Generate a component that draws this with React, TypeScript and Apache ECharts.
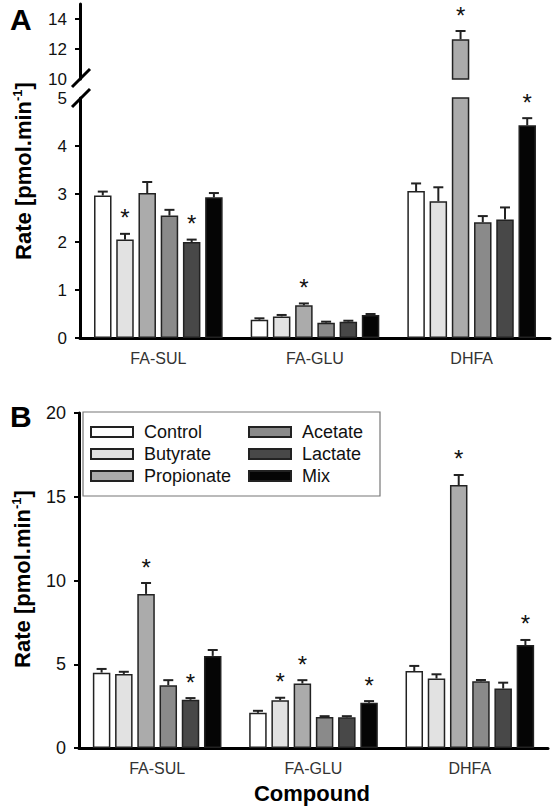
import React, { useEffect, useRef } from 'react';
import * as echarts from 'echarts';

const categories = ['FA-SUL', 'FA-GLU', 'DHFA'];
const seriesNames = ['Control', 'Butyrate', 'Propionate', 'Acetate', 'Lactate', 'Mix'];
const colors = ['#ffffff', '#e2e2e2', '#ababab', '#8a8a8a', '#484848', '#050505'];

// Panel A: means per series [FA-SUL, FA-GLU, DHFA]
const aControl = [2.97, 0.38, 3.06];
const aButyrate = [2.05, 0.45, 2.85];
const aPropionate = [3.02, 0.68, 12.65];
const aAcetate = [2.55, 0.32, 2.41];
const aLactate = [2.0, 0.34, 2.47];
const aMix = [2.93, 0.48, 4.43];
// Panel A: error bar tops (mean + SEM)
const aControlErr = [3.05, 0.41, 3.22];
const aButyrateErr = [2.17, 0.48, 3.14];
const aPropionateErr = [3.25, 0.72, 13.2];
const aAcetateErr = [2.67, 0.34, 2.54];
const aLactateErr = [2.05, 0.36, 2.72];
const aMixErr = [3.02, 0.5, 4.58];
// Panel A: significance [categoryIndex, seriesIndex]
const aStars = [[0, 1], [0, 4], [1, 2], [2, 2], [2, 5]];

// Panel B
const bControl = [4.5, 2.1, 4.6];
const bButyrate = [4.42, 2.85, 4.15];
const bPropionate = [9.2, 3.85, 15.7];
const bAcetate = [3.75, 1.85, 3.98];
const bLactate = [2.88, 1.83, 3.55];
const bMix = [5.5, 2.7, 6.15];
const bControlErr = [4.72, 2.22, 4.9];
const bButyrateErr = [4.55, 3.0, 4.4];
const bPropionateErr = [9.85, 4.05, 16.3];
const bAcetateErr = [4.05, 1.9, 4.06];
const bLactateErr = [2.98, 1.9, 3.9];
const bMixErr = [5.85, 2.8, 6.45];
const bStars = [[0, 2], [0, 4], [1, 1], [1, 2], [1, 5], [2, 2], [2, 5]];

const aLowerTicks = [0, 1, 2, 3, 4, 5];
const aUpperTicks = [10, 12, 14];

const aVals = [aControl, aButyrate, aPropionate, aAcetate, aLactate, aMix];
const aErrs = [aControlErr, aButyrateErr, aPropionateErr, aAcetateErr, aLactateErr, aMixErr];
const bVals = [bControl, bButyrate, bPropionate, bAcetate, bLactate, bMix];
const bErrs = [bControlErr, bButyrateErr, bPropionateErr, bAcetateErr, bLactateErr, bMixErr];

const FONT = '"Liberation Sans", Arial, sans-serif';
const BAR_W = 17.5;
const GAP = 0.27;

function errData(vals: number[][], errs: number[][], stars: number[][], lo: number, hi: number) {
  const out: number[][] = [];
  vals.forEach((arr, s) => {
    arr.forEach((v, c) => {
      if (v > lo && v <= hi) {
        const star = stars.some(([sc, ss]) => sc === c && ss === s) ? 1 : 0;
        out.push([c, s, errs[s][c], v, star]);
      }
    });
  });
  return out;
}

function errSeries(data: number[][], gi: number) {
  return {
    type: 'custom',
    xAxisIndex: gi,
    yAxisIndex: gi,
    z: 5,
    silent: true,
    data,
    encode: { x: 0, y: 2 },
    renderItem: (params: any, api: any) => {
      const cat = api.value(0);
      const s = api.value(1);
      const top = api.coord([cat, api.value(2)]);
      const bot = api.coord([cat, api.value(3)]);
      const pitch = BAR_W * (1 + GAP);
      const x = top[0] + (s - 2.5) * pitch;
      const children: any[] = [
        { type: 'line', shape: { x1: x, y1: bot[1], x2: x, y2: top[1] }, style: { stroke: '#222', lineWidth: 2 } },
        { type: 'line', shape: { x1: x - 5, y1: top[1], x2: x + 5, y2: top[1] }, style: { stroke: '#222', lineWidth: 2 } },
      ];
      if (api.value(4) === 1) {
        children.push({
          type: 'text',
          x,
          y: top[1] - 16,
          style: { text: '*', fill: '#111', font: `24px ${FONT}`, align: 'center', verticalAlign: 'middle' },
        });
      }
      return { type: 'group', children };
    },
  };
}

export default function App() {
  const ref = useRef<HTMLDivElement>(null);
  useEffect(() => {
    document.body.style.margin = '0';
    const chart = echarts.init(ref.current!, null, { renderer: 'svg' });
    const axisLine = { show: true, lineStyle: { color: '#000', width: 3 } };
    const yLabel = { color: '#111', fontSize: 18, margin: 13, fontFamily: FONT };
    const xLabel = { color: '#333', fontSize: 16, margin: 12, fontFamily: FONT };
    const barBase = (name: string, i: number, data: any[], gi: number) => ({
      type: 'bar',
      name,
      xAxisIndex: gi,
      yAxisIndex: gi,
      data,
      barWidth: BAR_W,
      barGap: `${GAP * 100}%`,
      itemStyle: { color: colors[i], borderColor: '#222', borderWidth: 1.5 },
    });
    const series: any[] = [];
    seriesNames.forEach((n, i) => series.push(barBase(n, i, aVals[i], 0)));
    seriesNames.forEach((n, i) => series.push(barBase(n, i, aVals[i].map((v) => (v > 10 ? v : '-')), 1)));
    seriesNames.forEach((n, i) => series.push(barBase(n, i, bVals[i], 2)));
    series.push(errSeries(errData(aVals, aErrs, aStars, -1, 5), 0));
    series.push(errSeries(errData(aVals, aErrs, aStars, 10, 100), 1));
    series.push(errSeries(errData(bVals, bErrs, bStars, -1, 100), 2));

    const legendCommon = {
      orient: 'vertical',
      top: 423,
      padding: 0,
      itemWidth: 42,
      itemHeight: 10,
      itemGap: 4,
      icon: 'rect',
      selectedMode: false,
      textStyle: { fontSize: 18, color: '#111', fontFamily: FONT, padding: [0, 0, 0, 6] },
    };

    const yTitle = (x: number, y: number) => ({
      type: 'text', x, y, rotation: Math.PI / 2,
      style: {
        text: '{a|Rate [pmol.min}{s|-1}{a|]}',
        align: 'center', verticalAlign: 'middle',
        rich: {
          a: { font: `bold 22px ${FONT}`, fill: '#000', lineHeight: 24 },
          s: { font: `bold 13px ${FONT}`, fill: '#000', lineHeight: 14, verticalAlign: 'top' },
        },
      },
    });

    chart.setOption({
      animation: false,
      textStyle: { fontFamily: FONT },
      grid: [
        { left: 80, right: 5, top: 98, height: 240 },
        { left: 80, right: 5, top: 4, height: 75 },
        { left: 79, right: 7, top: 413, height: 335 },
      ],
      xAxis: [0, 1, 2].map((gi) => ({
        type: 'category',
        gridIndex: gi,
        data: categories,
        show: gi !== 1,
        axisLine,
        axisTick: { alignWithLabel: true, length: 5, lineStyle: { color: '#000', width: 2 } },
        axisLabel: xLabel,
      })),
      yAxis: [
        {
          type: 'value', gridIndex: 0, min: 0, max: 5, interval: 1,
          axisLine, splitLine: { show: false },
          axisTick: { show: true, length: 5, customValues: [0, 1, 2, 3, 4], lineStyle: { color: '#000', width: 2 } },
          axisLabel: { ...yLabel, fontSize: 17, lineHeight: 14, customValues: aLowerTicks },
        },
        {
          type: 'value', gridIndex: 1, min: 10, max: 15, interval: 2,
          axisLine, splitLine: { show: false },
          axisTick: { show: true, length: 5, customValues: [12, 14], lineStyle: { color: '#000', width: 2 } },
          axisLabel: { ...yLabel, fontSize: 17, lineHeight: 14, customValues: aUpperTicks },
        },
        {
          type: 'value', gridIndex: 2, min: 0, max: 20, interval: 5,
          axisLine, splitLine: { show: false },
          axisTick: { show: true, length: 5, lineStyle: { color: '#000', width: 2 } },
          axisLabel: { ...yLabel },
        },
      ],
      legend: [
        { ...legendCommon, left: 90, data: seriesNames.slice(0, 3) },
        { ...legendCommon, left: 248, data: seriesNames.slice(3) },
      ],
      graphic: [
        { type: 'text', left: 10, top: 4, style: { text: 'A', font: `bold 30px ${FONT}`, fill: '#000' } },
        { type: 'text', left: 10, top: 401, style: { text: 'B', font: `bold 30px ${FONT}`, fill: '#000' } },
        yTitle(23, 171),
        yTitle(22, 579),
        {
          type: 'text', x: 312, y: 793,
          style: { text: 'Compound', font: `bold 22px ${FONT}`, fill: '#000', align: 'center', verticalAlign: 'middle' },
        },
        { type: 'line', shape: { x1: 72, y1: 87, x2: 90, y2: 69 }, style: { stroke: '#000', lineWidth: 3 }, z: 10 },
        { type: 'line', shape: { x1: 72, y1: 107, x2: 90, y2: 89 }, style: { stroke: '#000', lineWidth: 3 }, z: 10 },
        { type: 'rect', shape: { x: 83, y: 412, width: 297, height: 84 }, style: { fill: 'none', stroke: '#777', lineWidth: 1.2 }, z: 10 },
      ],
      series,
    });
    return () => chart.dispose();
  }, []);
  return <div ref={ref} style={{ width: 555, height: 812 }} />;
}
